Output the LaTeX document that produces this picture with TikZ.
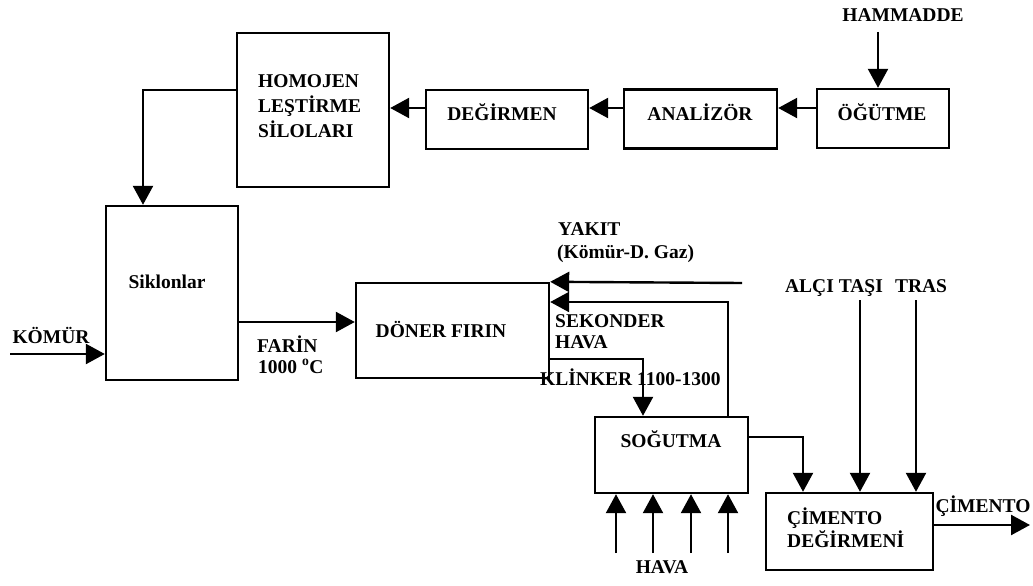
\documentclass[tikz,border=0pt]{standalone}
\usepackage{fontspec}
\setmainfont{Liberation Serif}
\usetikzlibrary{arrows.meta}
\begin{document}
\begin{tikzpicture}[x=1pt,y=-1pt,
  box/.style={draw,line width=2.4pt,rectangle,inner sep=0pt},
  lbl/.style={font=\fontsize{19.5}{24.5}\selectfont\bfseries,inner sep=0pt,anchor=base},
  lbll/.style={lbl,anchor=base west},
  arr/.style={line width=2.4pt,-{Triangle[length=19pt,width=20pt]}},
  ln/.style={line width=2.4pt}]
\useasboundingbox (0,0) rectangle (1033,586);
% boxes
\node[box,minimum width=152pt,minimum height=154pt] (homo) at (313,110) {};
\node[box,minimum width=162pt,minimum height=59pt] (deg) at (507,119.5) {};
\node[box,minimum width=153pt,minimum height=59pt] (anal) at (700.5,119) {};
\node[box,minimum width=132pt,minimum height=59pt] (ogut) at (883,118.5) {};
\node[box,minimum width=132pt,minimum height=174pt] (sik) at (172,293) {};
\node[box,minimum width=193pt,minimum height=95pt] (doner) at (452.5,330.5) {};
\node[box,minimum width=153pt,minimum height=76pt] (sog) at (671.5,455) {};
\node[box,minimum width=167pt,minimum height=77pt] (cim) at (849.5,531.5) {};
% labels
\node[lbl] (hamT) at (903,22) {HAMMADDE};
\node[lbll] (homoT1) at (258,88) {HOMOJEN};
\node[lbll] (homoT2) at (258,112.5) {LEŞTİRME};
\node[lbll] (homoT3) at (258,137) {SİLOLARI};
\node[lbl] (degT) at (502,120) {DEĞİRMEN};
\node[lbl] (analT) at (700,120) {ANALİZÖR};
\node[lbl] (ogutT) at (882,120) {ÖĞÜTME};
\node[lbl] (sikT) at (167,288) {Siklonlar};
\node[lbl] (komT) at (51,343) {KÖMÜR};
\node[lbll] (farT) at (257,352) {FARİN};
\node[lbll] (farT2) at (258,373) {1000 \textsuperscript{o}C};
\node[lbl] (donT) at (441,337) {DÖNER FIRIN};
\node[lbll] (yakT) at (558,235) {YAKIT};
\node[lbll] (yakT2) at (557,258) {(Kömür-D. Gaz)};
\node[lbll] (sekT) at (555,327) {SEKONDER};
\node[lbll] (sekT2) at (555,348) {HAVA};
\node[lbll] (kliT) at (540,385) {KLİNKER 1100-1300};
\node[lbl] (alcT) at (834,292) {ALÇI TAŞI};
\node[lbl] (trasT) at (921,292) {TRAS};
\node[lbl] (sogT) at (671,447) {SOĞUTMA};
\node[lbll] (cimT1) at (787,524) {ÇİMENTO};
\node[lbll] (cimT2) at (787,547) {DEĞİRMENİ};
\node[lbl] (cimOutT) at (983,512) {ÇİMENTO};
\node[lbl] (havaT) at (662,573) {HAVA};
% free ends
\coordinate (hamIn) at (878,32);
\coordinate (komIn) at (10,354);
\coordinate (yakIn) at (742,283);
\coordinate (alcIn) at (860,300);
\coordinate (trasIn) at (916,300);
\coordinate (cimOut) at (1030,525);
\coordinate (h1) at (616,553);
\coordinate (h2) at (653,553);
\coordinate (h3) at (691,553);
\coordinate (h4) at (728,553);
% connectors
\draw[arr] (hamIn) -- (hamIn |- ogut.north);
\draw[arr] (ogut.west |- 0,108) -- (anal.east |- 0,108);
\draw[arr] (anal.west |- 0,108) -- (deg.east |- 0,108);
\draw[arr] (deg.west |- 0,108) -- (homo.east |- 0,108);
\draw[arr] (homo.west |- 0,90) -| (sik.north -| 143,0);
\draw[arr] (komIn) -- (sik.west |- komIn);
\draw[arr] (sik.east |- 0,322) -- (doner.west |- 0,322);
\draw[arr] (yakIn) -- (doner.north east);
\draw[arr] (sog.north -| 728,0) |- (doner.east |- 0,302);
\draw[arr] (doner.east |- 0,359) -| (sog.north -| 643,0);
\draw[arr] (sog.east |- 0,437) -| (cim.north -| 803,0);
\draw[arr] (alcIn) -- (alcIn |- cim.north);
\draw[arr] (trasIn) -- (trasIn |- cim.north);
\draw[arr] (cim.east |- cimOut) -- (cimOut);
\foreach \h in {h1,h2,h3,h4} \draw[arr] (\h) -- (\h |- sog.south);
\end{tikzpicture}
\end{document}
